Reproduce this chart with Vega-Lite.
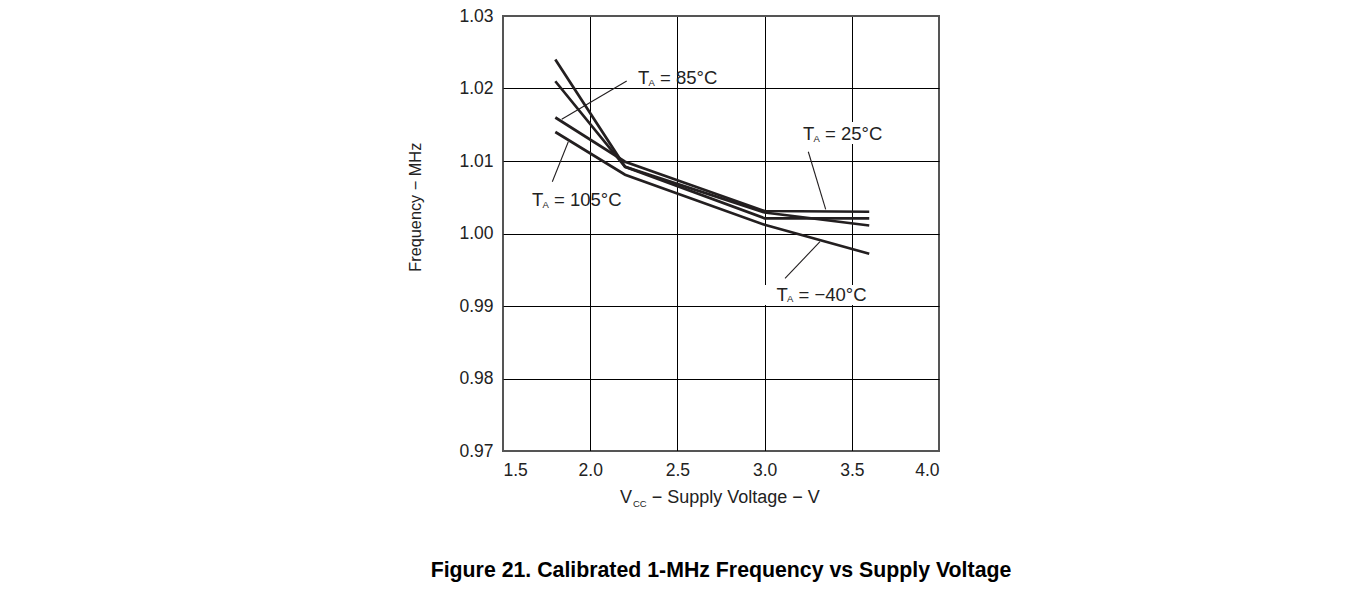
{
  "$schema": "https://vega.github.io/schema/vega-lite/v6.json",
  "width": 436,
  "height": 435,
  "autosize": {"type": "none"},
  "padding": {"left": 503, "top": 16, "right": 412, "bottom": 139},
  "background": "white",
  "config": {
    "font": "Liberation Sans",
    "view": {"stroke": "#555555", "strokeWidth": 2},
    "axis": {"labelFont": "Liberation Sans", "titleFont": "Liberation Sans"}
  },
  "title": {
    "text": "Figure 21. Calibrated 1-MHz Frequency vs Supply Voltage",
    "orient": "bottom",
    "anchor": "middle",
    "font": "Liberation Sans",
    "fontSize": 21.3,
    "fontWeight": "bold",
    "color": "#000000",
    "offset": 52
  },
  "datasets": {
    "curves": [
      {"series": "a", "v": 1.8, "f": 1.024},
      {"series": "a", "v": 2.2, "f": 1.0092},
      {"series": "a", "v": 3.0, "f": 1.0029},
      {"series": "a", "v": 3.6, "f": 1.0011},
      {"series": "b", "v": 1.8, "f": 1.021},
      {"series": "b", "v": 2.2, "f": 1.0092},
      {"series": "b", "v": 3.0, "f": 1.0021},
      {"series": "b", "v": 3.6, "f": 1.0021},
      {"series": "c", "v": 1.8, "f": 1.016},
      {"series": "c", "v": 2.2, "f": 1.0099},
      {"series": "c", "v": 3.0, "f": 1.0031},
      {"series": "c", "v": 3.6, "f": 1.0030},
      {"series": "d", "v": 1.8, "f": 1.014},
      {"series": "d", "v": 2.2, "f": 1.0081},
      {"series": "d", "v": 3.0, "f": 1.0012},
      {"series": "d", "v": 3.6, "f": 0.9972}
    ],
    "boxes": [
      {"label": "25", "x1": 3.1915, "x2": 3.7638, "y1": 1.01538, "y2": 1.01234},
      {"label": "-40", "x1": 2.9736, "x2": 3.6158, "y1": 0.99290, "y2": 0.99014}
    ],
    "pointers": [
      {"label": "85", "x1": 1.8366, "y1": 1.01575, "x2": 2.2093, "y2": 1.02103},
      {"label": "25", "x1": 3.2506, "y1": 1.01128, "x2": 3.3503, "y2": 1.00333},
      {"label": "105", "x1": 1.8744, "y1": 1.01266, "x2": 1.7827, "y2": 1.00714},
      {"label": "-40", "x1": 3.3177, "y1": 0.99887, "x2": 3.117, "y2": 0.99382}
    ],
    "texts": [
      {"kind": "main", "t": "T", "x": 2.2741, "y": 1.02058},
      {"kind": "sub", "t": "A", "x": 2.3343, "y": 1.02028},
      {"kind": "main", "t": "= 85°C", "x": 2.4002, "y": 1.02058},
      {"kind": "main", "t": "T", "x": 3.2202, "y": 1.0129},
      {"kind": "sub", "t": "A", "x": 3.2804, "y": 1.01262},
      {"kind": "main", "t": "= 25°C", "x": 3.3463, "y": 1.0129},
      {"kind": "main", "t": "T", "x": 1.6663, "y": 1.00379},
      {"kind": "sub", "t": "A", "x": 1.7265, "y": 1.00348},
      {"kind": "main", "t": "= 105°C", "x": 1.7924, "y": 1.00379},
      {"kind": "main", "t": "T", "x": 3.0683, "y": 0.99073},
      {"kind": "sub", "t": "A", "x": 3.1286, "y": 0.99051},
      {"kind": "main", "t": "= −40°C", "x": 3.1944, "y": 0.99073},
      {"kind": "axis", "t": "V", "x": 2.1709, "y": 0.96279},
      {"kind": "sub", "t": "CC", "x": 2.2454, "y": 0.96232},
      {"kind": "axis", "t": "− Supply Voltage − V", "x": 2.3526, "y": 0.96279}
    ]
  },
  "layer": [
    {
      "data": {"name": "curves"},
      "mark": {"type": "line", "color": "#231f20", "strokeWidth": 2.7, "strokeJoin": "miter"},
      "encoding": {
        "x": {
          "field": "v",
          "type": "quantitative",
          "scale": {"domain": [1.5, 4.0], "nice": false, "zero": false},
          "axis": {
            "values": [1.5, 2.0, 2.5, 3.0, 3.5, 4.0],
            "format": ".1f",
            "title": null,
            "grid": true,
            "gridColor": {"condition": {"test": "datum.value <= 1.5 || datum.value >= 4.0", "value": "#555555"}, "value": "#000000"},
            "gridWidth": 1,
            "gridOpacity": 1,
            "ticks": false,
            "domain": false,
            "labelFontSize": 17.5,
            "labelColor": "#222222",
            "labelPadding": 10
          }
        },
        "y": {
          "field": "f",
          "type": "quantitative",
          "scale": {"domain": [0.97, 1.03], "nice": false, "zero": false},
          "axis": {
            "values": [0.97, 0.98, 0.99, 1.0, 1.01, 1.02, 1.03],
            "format": ".2f",
            "title": "Frequency − MHz",
            "titleFontSize": 16.3,
            "titleFontWeight": "normal",
            "titleColor": "#222222",
            "titleAngle": 270,
            "titleAlign": "center",
            "titleBaseline": "alphabetic",
            "titleX": -83,
            "titleY": 190.7,
            "grid": true,
            "gridColor": {"condition": {"test": "datum.value <= 0.97 || datum.value >= 1.03", "value": "#555555"}, "value": "#000000"},
            "gridWidth": 1,
            "gridOpacity": 1,
            "ticks": false,
            "domain": false,
            "labelFontSize": 17.5,
            "labelColor": "#222222",
            "labelPadding": 10
          }
        },
        "detail": {"field": "series"}
      }
    },
    {
      "data": {"name": "boxes"},
      "mark": {"type": "rect", "color": "#ffffff", "opacity": 1},
      "encoding": {
        "x": {"field": "x1", "type": "quantitative"},
        "x2": {"field": "x2"},
        "y": {"field": "y1", "type": "quantitative"},
        "y2": {"field": "y2"}
      }
    },
    {
      "data": {"name": "pointers"},
      "mark": {"type": "rule", "color": "#231f20", "strokeWidth": 1.1},
      "encoding": {
        "x": {"field": "x1", "type": "quantitative"},
        "y": {"field": "y1", "type": "quantitative"},
        "x2": {"field": "x2"},
        "y2": {"field": "y2"}
      }
    },
    {
      "data": {"name": "texts"},
      "transform": [{"filter": "datum.kind == 'main'"}],
      "mark": {"type": "text", "align": "left", "baseline": "alphabetic", "fontSize": 18.5, "color": "#222222", "font": "Liberation Sans"},
      "encoding": {
        "x": {"field": "x", "type": "quantitative"},
        "y": {"field": "y", "type": "quantitative"},
        "text": {"field": "t"}
      }
    },
    {
      "data": {"name": "texts"},
      "transform": [{"filter": "datum.kind == 'axis'"}],
      "mark": {"type": "text", "align": "left", "baseline": "alphabetic", "fontSize": 18, "color": "#222222", "font": "Liberation Sans"},
      "encoding": {
        "x": {"field": "x", "type": "quantitative"},
        "y": {"field": "y", "type": "quantitative"},
        "text": {"field": "t"}
      }
    },
    {
      "data": {"name": "texts"},
      "transform": [{"filter": "datum.kind == 'sub'"}],
      "mark": {"type": "text", "align": "left", "baseline": "alphabetic", "fontSize": 9.5, "color": "#222222", "font": "Liberation Sans"},
      "encoding": {
        "x": {"field": "x", "type": "quantitative"},
        "y": {"field": "y", "type": "quantitative"},
        "text": {"field": "t"}
      }
    }
  ]
}
